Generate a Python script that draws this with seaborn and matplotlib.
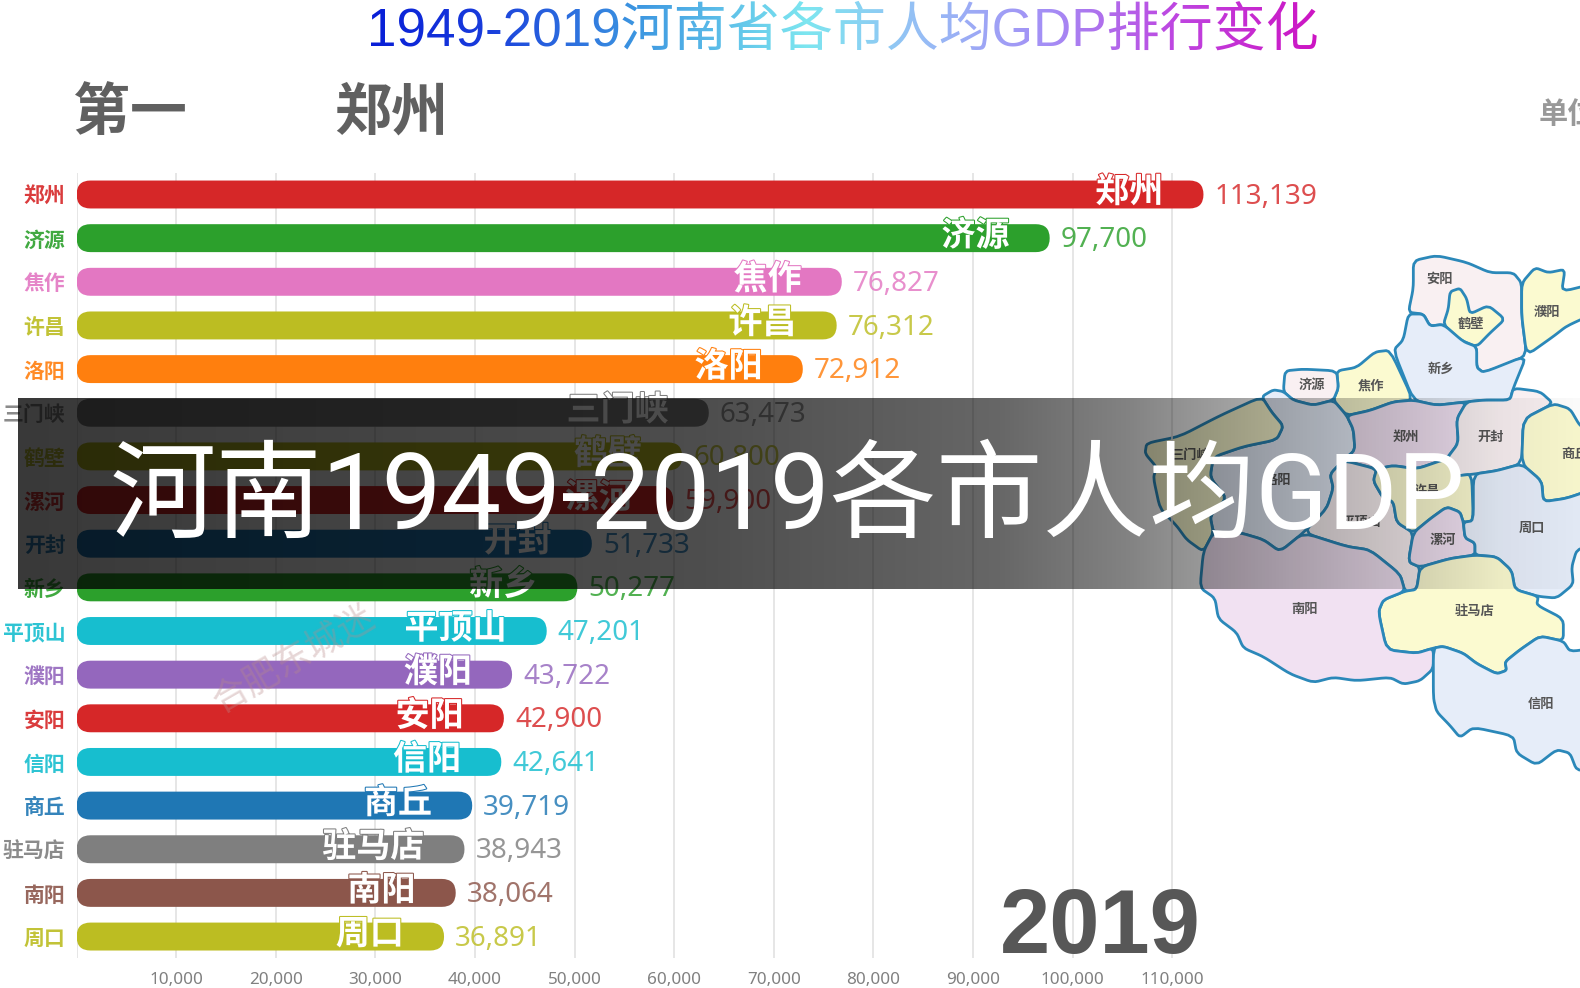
import numpy as np
import pandas as pd
import matplotlib
matplotlib.use("Agg")
import matplotlib.pyplot as plt
import matplotlib.patheffects as pe
from matplotlib.patches import FancyBboxPatch, Polygon
import seaborn as sns

cities = ["郑州", "济源", "焦作", "许昌", "洛阳", "三门峡", "鹤壁", "漯河", "开封",
          "新乡", "平顶山", "濮阳", "安阳", "信阳", "商丘", "驻马店", "南阳", "周口"]
gdp = [113139, 97700, 76827, 76312, 72912, 63473, 60800, 59900, 51733,
       50277, 47201, 43722, 42900, 42641, 39719, 38943, 38064, 36891]
colors = ["#d62728", "#2ca02c", "#e377c2", "#bcbd22", "#ff7f0e", "#7f7f7f", "#bcbd22", "#d62728", "#1f77b4",
          "#2ca02c", "#17becf", "#9467bd", "#d62728", "#17becf", "#1f77b4", "#7f7f7f", "#8c564b", "#bcbd22"]
ticks = [10000 * i for i in range(1, 12)]

title = "1949-2019河南省各市人均GDP排行变化"
banner = "河南1949-2019各市人均GDP"

YELLOW = "#fbfad0"
BLUE = "#e6edf9"
PINK = "#f9f0f2"
LILAC = "#f1e1f2"
map_shapes = {
    "安阳": (PINK, [(850,60),(920,45),(1010,65),(1080,95),(1150,95),(1175,125),(1175,220),(1190,335),(1120,365),(1060,385),(1040,370),(1040,310),(1000,295),(940,245),(900,250),(880,215),(835,210),(850,140)]),
    "鹤壁": (YELLOW, [(960,150),(990,140),(1010,170),(1020,215),(1075,190),(1125,230),(1080,270),(1040,310),(990,290),(940,245),(955,200)]),
    "濮阳": (YELLOW, [(1175,125),(1215,80),(1255,95),(1305,85),(1295,150),(1400,125),(1400,210),(1310,250),(1270,280),(1190,335),(1175,220)]),
    "新乡": (BLUE, [(835,215),(880,215),(900,250),(940,245),(1000,295),(1040,310),(1040,370),(1060,385),(1190,335),(1150,430),(1140,465),(1060,465),(1010,470),(920,480),(850,465),(790,320),(820,290)]),
    "焦作": (YELLOW, [(620,380),(680,370),(735,325),(780,320),(850,465),(790,470),(720,495),(650,510),(610,465),(625,430)]),
    "济源": (PINK, [(465,380),(520,375),(620,380),(625,430),(610,465),(550,480),(490,465),(460,440)]),
    "洛阳": (BLUE, [(395,455),(430,435),(460,440),(490,465),(550,480),(610,465),(650,510),(670,550),(675,610),(640,640),(600,680),(610,720),(590,780),(520,850),(450,905),(400,870),(330,850),(250,850),(240,800),(290,750),(240,690),(250,630),(340,600),(440,580),(460,540),(425,500)]),
    "三门峡": (YELLOW, [(50,590),(150,570),(270,510),(395,455),(425,500),(460,540),(440,580),(340,600),(250,630),(240,690),(290,750),(240,800),(250,850),(220,905),(170,870),(140,830),(90,780),(70,690),(80,660),(45,620)]),
    "郑州": (LILAC, [(650,510),(720,495),(790,470),(850,465),(920,480),(1010,470),(980,520),(985,590),(950,635),(860,665),(790,655),(740,665),(640,640),(675,610),(670,550)]),
    "开封": (PINK, [(1010,470),(1060,465),(1140,465),(1150,430),(1230,440),(1270,475),(1180,520),(1175,650),(1100,670),(1030,680),(980,685),(950,635),(985,590),(980,520)]),
    "商丘": (YELLOW, [(1270,475),(1320,490),(1350,540),(1400,570),(1400,720),(1310,750),(1240,760),(1235,700),(1175,650),(1180,520)]),
    "平顶山": (PINK, [(600,680),(640,640),(740,665),(730,700),(760,750),(790,760),(800,820),(850,850),(835,935),(870,950),(860,1015),(825,1020),(810,970),(720,900),(650,890),(520,850),(590,780),(610,720)]),
    "许昌": (YELLOW, [(740,665),(790,655),(860,665),(950,635),(980,685),(1025,680),(1030,815),(1000,820),(990,790),(950,775),(900,810),(850,850),(800,820),(790,760),(760,750),(730,700)]),
    "漯河": (LILAC, [(850,850),(900,810),(950,775),(990,790),(1000,820),(1005,865),(1035,880),(1035,915),(960,925),(870,950),(835,935)]),
    "周口": (BLUE, [(1030,680),(1100,670),(1175,650),(1235,700),(1240,760),(1310,750),(1400,720),(1400,880),(1340,900),(1325,950),(1330,1000),(1280,1040),(1225,1035),(1155,1015),(1145,960),(1100,920),(1035,915),(1035,880),(1005,865),(1000,820),(1030,815)]),
    "驻马店": (YELLOW, [(870,950),(960,925),(1035,915),(1100,920),(1145,960),(1155,1015),(1225,1035),(1220,1060),(1300,1100),(1300,1165),(1230,1150),(1170,1190),(1125,1225),(1130,1250),(1100,1260),(1040,1230),(1000,1200),(940,1180),(910,1185),(860,1200),(770,1190),(745,1080),(760,1045),(825,1020),(860,1015)]),
    "南阳": (LILAC, [(220,905),(250,850),(330,850),(400,870),(450,905),(520,850),(650,890),(720,900),(810,970),(825,1020),(760,1045),(745,1080),(770,1190),(860,1200),(910,1185),(910,1245),(870,1280),(820,1290),(780,1270),(680,1280),(610,1270),(550,1285),(480,1260),(400,1210),(340,1185),(320,1140),(265,1100),(255,1040),(210,1010)]),
    "信阳": (BLUE, [(910,1185),(940,1180),(1000,1200),(1040,1230),(1100,1260),(1130,1250),(1125,1225),(1170,1190),(1230,1150),(1300,1165),(1320,1195),(1400,1185),(1400,1540),(1340,1540),(1320,1490),(1280,1480),(1220,1525),(1160,1490),(1150,1440),(1030,1415),(990,1445),(960,1410),(920,1370),(910,1330)]),
}
map_labels = {"安阳": (928,113), "鹤壁": (1022,245), "濮阳": (1250,210), "新乡": (932,375), "济源": (545,420),
              "焦作": (722,422), "三门峡": (180,625), "洛阳": (445,698), "郑州": (828,572), "开封": (1083,572),
              "商丘": (1335,622), "平顶山": (695,818), "许昌": (890,730), "漯河": (940,870), "周口": (1207,836),
              "南阳": (525,1070), "驻马店": (1035,1077), "信阳": (1232,1348)}


def crop_xy(p):
    return 1130 + p[0] / 3, 240 + p[1] / 2.904


def soften(pts, rounds=2):
    # corner cutting so the province borders are not so angular
    pts = np.array(pts, dtype=float)
    for _ in range(rounds):
        nxt = np.roll(pts, -1, axis=0)
        pts = np.column_stack([0.85 * pts + 0.15 * nxt, 0.15 * pts + 0.85 * nxt]).reshape(-1, 2)
    return pts


def title_gradient(img, dpi):
    # single text object, coloured left to right
    h, w = img.shape[:2]
    pos = np.linspace(0, 1, w)
    stops = [0, 0.12, 0.28, 0.46, 0.58, 0.72, 0.85, 1]
    reds = [8, 25, 60, 125, 150, 165, 190, 205]
    greens = [30, 60, 150, 230, 190, 140, 70, 20]
    blues = [215, 220, 225, 240, 245, 245, 225, 195]
    out = np.zeros_like(img)
    out[..., 0] = np.interp(pos, stops, reds)[None, :] / 255
    out[..., 1] = np.interp(pos, stops, greens)[None, :] / 255
    out[..., 2] = np.interp(pos, stops, blues)[None, :] / 255
    out[..., 3] = img[..., 3]
    return out, 0, 0


sns.set_theme(style="white")
plt.rcParams["font.family"] = ["Noto Sans CJK SC", "DejaVu Sans"]

W, H = 1580, 988
fig = plt.figure(figsize=(W / 100, H / 100), dpi=100, facecolor="white")

map_ax = fig.add_axes([0, 0, 1, 1], zorder=0)
map_ax.set_xlim(0, W)
map_ax.set_ylim(H, 0)
map_ax.axis("off")
for name, (fill, pts) in map_shapes.items():
    xy = soften([crop_xy(p) for p in pts])
    map_ax.add_patch(Polygon(xy, closed=True, facecolor=fill, edgecolor="#2b88b9", lw=2, joinstyle="round"))
for name, p in map_labels.items():
    x, y = crop_xy(p)
    map_ax.text(x, y, name, fontsize=9.5, fontweight="bold", color="#555555", ha="center", va="center")

# bars: zero at x=76.6, 99.6 px per 10,000, 43.65 px per row
px_per_unit = 99.6 / 10000
row_h = 43.65
left = 76.6
top = 194.5 - row_h / 2
bottom = top + row_h * len(cities)
ax = fig.add_axes([left / W, 1 - bottom / H, (W - left) / W, (bottom - top) / H], zorder=1)
ax.patch.set_alpha(0)

df = pd.DataFrame({"city": cities, "gdp": gdp})
sns.barplot(data=df, x="gdp", y="city", hue="city", palette=colors, legend=False,
            width=0.64, saturation=1, ax=ax, zorder=3)
ax.set_xlim(0, (W - left) / px_per_unit)
ax.set_ylim(len(cities) - 0.5, -0.5)

# seaborn bars come out square, swap for rounded ones at the same place
radius = 13.9
for bar, c in zip(list(ax.patches), colors):
    x0, y0 = bar.get_x(), bar.get_y()
    w, h = bar.get_width(), bar.get_height()
    bar.remove()
    ax.add_patch(FancyBboxPatch((x0, y0), w, h,
                                boxstyle=f"round,pad=0,rounding_size={radius / px_per_unit}",
                                mutation_aspect=px_per_unit / row_h, facecolor=c, edgecolor="none", zorder=3))

for i, (city, v, c) in enumerate(zip(cities, gdp, colors)):
    ax.annotate(f"{v:,}", (v, i), xytext=(8, -1.5), textcoords="offset points", ha="left", va="center",
                color=c, fontsize=20, family=["Noto Sans", "DejaVu Sans"], alpha=0.82, zorder=4)
    ax.annotate(city, (v, i), xytext=(-29, 2), textcoords="offset points", ha="right", va="center",
                color="white", fontsize=24.5, fontweight="bold", zorder=5,
                path_effects=[pe.withStroke(linewidth=1.5, foreground=c)])
    ax.annotate(city, (0, i), xytext=(-8, -1.5), textcoords="offset points", ha="right", va="center",
                color=c, fontsize=15, fontweight="bold", alpha=0.9, zorder=4, annotation_clip=False)

ax.set_xlabel("")
ax.set_ylabel("")
ax.set_yticks([])
ax.set_xticks([0] + ticks)
ax.set_xticklabels([""] + [f"{t:,}" for t in ticks], family=["Noto Sans", "DejaVu Sans"],
                   fontsize=12.3, color="#808080")
ax.tick_params(axis="x", length=0, pad=10)
ax.grid(axis="x", color="#e2e2e2", lw=1.2, zorder=0)
ax.set_axisbelow(True)
sns.despine(ax=ax, left=True, bottom=True, top=True, right=True)

# texts and banner on top of everything
top_ax = fig.add_axes([0, 0, 1, 1], zorder=2)
top_ax.set_xlim(0, W)
top_ax.set_ylim(H, 0)
top_ax.axis("off")
top_ax.patch.set_alpha(0)

t = top_ax.text(842.5, 32, title, fontsize=38.2, ha="center", va="center",
                family=["Liberation Sans", "Noto Sans CJK SC"])
t.set_agg_filter(title_gradient)

top_ax.text(73, 113, "第一", fontsize=41, fontweight="bold", color="#606060", va="center")
top_ax.text(334, 113, "郑州", fontsize=41, fontweight="bold", color="#606060", va="center")
top_ax.text(1539, 114, "单位", fontsize=21, fontweight="bold", color="#999999", va="center")
top_ax.text(1201, 953, "2019", fontsize=65, fontweight="bold", color="#575757", ha="right", va="baseline",
            family=["Liberation Sans", "DejaVu Sans"])
top_ax.text(294, 660, "合肥东城迷", fontsize=26, color="#b98a8a", alpha=0.35, rotation=30,
            ha="center", va="center")

band_x = np.arange(18, W)
band_alpha = np.interp(band_x, [18, 700, 1000, 1130, 1250, 1400, 1500, 1580],
                       [0.78, 0.70, 0.60, 0.49, 0.35, 0.18, 0.06, 0.02])
band = np.zeros((1, len(band_x), 4))
band[0, :, 3] = band_alpha
top_ax.imshow(band, extent=(18, W, 589, 398), aspect="auto", interpolation="bilinear", zorder=6)
top_ax.set_xlim(0, W)
top_ax.set_ylim(H, 0)
top_ax.text(787, 500, banner, fontsize=76.6, color="white", ha="center", va="center", zorder=7,
            family=["Roboto", "Noto Sans CJK SC"])

fig.savefig("out.png", dpi=100)
